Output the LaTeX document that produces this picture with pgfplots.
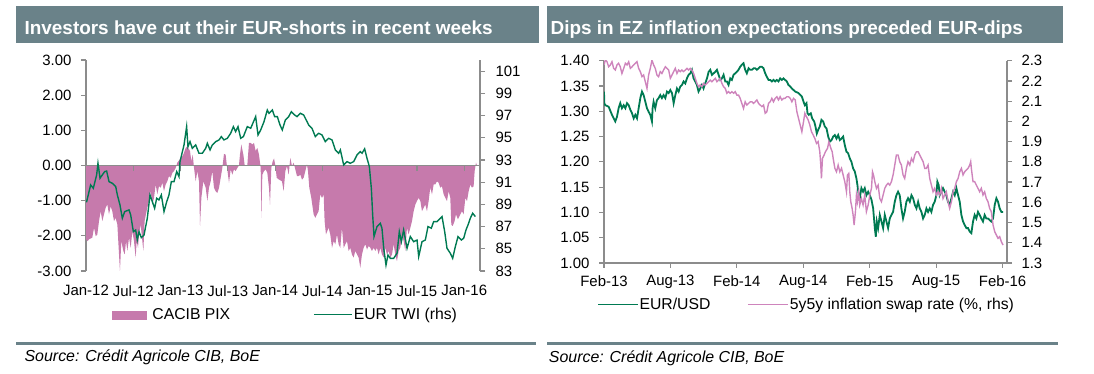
\documentclass[border=0pt]{standalone}
\usepackage{pgfplots}
\pgfplotsset{compat=1.18}
\usepackage{fontspec}
\setmainfont{Liberation Sans}
\definecolor{titlebg}{RGB}{106,130,137}
\definecolor{eurgreen}{RGB}{0,122,82}
\definecolor{pixpink}{RGB}{198,122,172}
\definecolor{swappink}{RGB}{206,132,188}
\definecolor{axgray}{RGB}{140,140,140}
\newcommand{\tickfont}{\fontsize{15}{15}\selectfont}
\newcommand{\legfont}{\fontsize{15.8}{15.8}\selectfont}
\pgfplotsset{
  common/.style={scale only axis, anchor=south west, tick align=outside, major tick length=5bp,
    axis line style={axgray, line width=1.2bp}, tick style={axgray, line width=1.2bp},
    tick label style={font=\tickfont, text=black}},
}
\begin{document}
\begin{tikzpicture}
\useasboundingbox (0,0) rectangle (1094bp,374bp);
% title bars
\fill[titlebg] (15.7bp,331.4bp) rectangle (538.5bp,367.7bp);
\fill[titlebg] (547bp,331.4bp) rectangle (1062.7bp,367.7bp);
\node[anchor=base west, inner sep=0pt, text=white, font=\fontsize{19}{19}\selectfont\bfseries] at (24.4bp,339bp) {Investors have cut their EUR-shorts in recent weeks};
\node[anchor=base west, inner sep=0pt, text=white, font=\fontsize{19}{19}\selectfont\bfseries] at (550.5bp,339bp) {Dips in EZ inflation expectations preceded EUR-dips};
% separators and sources
\fill[titlebg] (15.7bp,28.6bp) rectangle (535.6bp,32.1bp);
\fill[titlebg] (547bp,28.6bp) rectangle (1058bp,32.1bp);
\node[anchor=base west, inner sep=0pt, font=\fontsize{16}{16}\selectfont\itshape] at (24.4bp,13bp) {Source: Crédit Agricole CIB, BoE};
\node[anchor=base west, inner sep=0pt, font=\fontsize{16}{16}\selectfont\itshape] at (548.7bp,12bp) {Source: Crédit Agricole CIB, BoE};

% ---------------- Left panel: CACIB PIX ----------------
\begin{axis}[common, at={(86bp,103bp)}, width=394bp, height=211bp,
  xmin=0, xmax=50, ymin=-3, ymax=3,
  axis y line*=left, axis x line*=bottom, x axis line style={draw=none},
  major x tick style={draw=none},
  xtick={0,6,12,18,24,30,36,42,48},
  xticklabels={Jan-12,Jul-12,Jan-13,Jul-13,Jan-14,Jul-14,Jan-15,Jul-15,Jan-16},
  xticklabel style={yshift=-6bp},
  ytick={-3,-2,-1,0,1,2,3},
  yticklabels={-3.00,-2.00,-1.00,0.00,1.00,2.00,3.00},
  yticklabel style={xshift=-6bp},
  clip=false]
\addplot[fill=pixpink, draw=none, forget plot] coordinates {
(0,0) (0,-2.10) (0.2,-2.15) (0.38,-2.10) (0.80,-2.05) (1.02,-1.77) (1.23,-2.01) (1.44,-1.96) (1.65,-1.58) (1.86,-1.30) (2.07,-1.58) (2.28,-1.39) (2.50,-1.20) (2.71,-1.11) (2.92,-1.39) (3.13,-1.16) (3.34,-1.30) (3.55,-1.58) (3.76,-1.49) (3.98,-1.68) (4.19,-2.53) (4.31,-3.00) (4.48,-2.15) (4.74,-2.43) (4.91,-2.53) (5.08,-2.15) (5.25,-2.43) (5.46,-2.05) (5.67,-2.34) (5.88,-1.87) (6.09,-2.15) (6.30,-2.62) (6.43,-2.15) (6.60,-2.34) (6.73,-1.96) (6.94,-1.68) (7.15,-2.15) (7.28,-2.43) (7.44,-1.58) (7.61,-1.39) (7.78,-1.20) (7.99,-1.01) (8.20,-0.73) (8.42,-1.11) (8.63,-0.92) (8.84,-0.54) (9.05,-0.82) (9.26,-0.59) (9.48,-0.63) (9.69,-0.49) (9.90,-0.73) (10.11,-0.54) (10.32,-0.45) (10.53,-0.30) (10.74,-0.35) (10.96,-0.21) (11.17,-0.16) (11.38,-0.07) (11.59,0.08) (11.89,0.17) (12.10,0.22) (12.35,0.31) (12.65,0.50) (12.86,0.55) (13.20,0.41) (13.37,0.12) (13.54,0.31) (13.71,-0.07) (13.92,-0.45) (14.13,-0.16) (14.34,-0.45) (14.47,-1.72) (14.64,-0.92) (14.89,-0.45) (15.19,-0.63) (15.40,-1.01) (15.61,-0.63) (15.82,-0.45) (16.03,-0.16) (16.24,-0.63) (16.45,-0.73) (16.67,-0.78) (16.88,-0.63) (17.09,-0.35) (17.30,-0.07) (17.51,0.33) (17.72,0.31) (17.93,-0.11) (18.15,-0.49) (18.36,-0.11) (18.57,-0.26) (18.78,-0.11) (18.99,-0.16) (19.20,-0.07) (19.41,0) (19.54,0.31) (19.71,0.60) (19.97,0.31) (20.14,0) (20.47,0) (20.68,0.64) (20.90,0.64) (21.11,0.60) (21.32,0.64) (21.53,0.41) (21.74,0.50) (21.95,0.31) (22.17,-0.07) (22.25,-1.49) (22.38,-0.26) (22.59,-0.16) (22.80,-0.11) (23.01,-0.21) (23.22,-0.63) (23.35,-1.11) (23.52,-0.07) (23.69,0.12) (23.86,0.20) (24.03,0) (24.20,-0.35) (24.49,-0.40) (24.87,-0.45) (25.08,-0.73) (25.30,-0.16) (25.50,-0.02) (25.72,-0.26) (25.93,0.22) (26.14,-0.02) (26.35,0.08) (26.56,-0.11) (26.77,-0.30) (26.99,-0.30) (27.20,-0.26) (27.41,-0.40) (27.62,-0.35) (27.83,-0.16) (28.04,0.03) (28.17,-0.16) (28.34,-0.63) (28.59,-0.92) (28.89,-1.39) (29.10,-1.49) (29.31,-1.39) (29.52,-1.30) (29.73,-0.82) (29.95,-0.92) (30.16,-0.82) (30.28,-1.58) (30.45,-1.96) (30.79,-1.77) (31.00,-1.96) (31.22,-2.34) (31.43,-2.15) (31.64,-2.24) (31.85,-1.96) (32.06,-2.24) (32.27,-2.34) (32.48,-1.77) (32.70,-2.34) (32.91,-2.24) (33.12,-2.15) (33.33,-2.43) (33.54,-2.34) (33.75,-2.53) (33.96,-2.62) (34.18,-2.43) (34.39,-2.53) (34.60,-2.62) (34.81,-2.91) (35.02,-2.53) (35.23,-2.34) (35.45,-2.24) (35.66,-2.39) (35.87,-2.29) (36.08,-2.34) (36.29,-2.43) (36.50,-2.34) (36.71,-2.43) (36.93,-2.34) (37.14,-2.53) (37.35,-2.34) (37.56,-2.53) (37.77,-2.62) (37.98,-2.34) (38.19,-2.53) (38.41,-2.43) (38.62,-2.62) (38.83,-2.53) (39.04,-2.24) (39.25,-2.53) (39.46,-2.72) (39.68,-2.43) (39.89,-2.34) (40.10,-1.96) (40.31,-2.15) (40.52,-2.43) (40.73,-1.77) (40.94,-1.96) (41.16,-1.77) (41.37,-1.58) (41.58,-1.30) (41.79,-1.11) (42.00,-1.01) (42.21,-0.92) (42.43,-1.01) (42.64,-1.30) (42.85,-1.20) (43.06,-1.11) (43.27,-1.30) (43.48,-1.01) (43.69,-0.63) (43.91,-0.82) (44.12,-0.54) (44.33,-0.54) (44.54,-0.45) (44.75,-0.49) (44.96,-0.63) (45.17,-0.59) (45.39,-0.82) (45.60,-0.92) (45.81,-1.01) (46.02,-0.73) (46.23,-0.92) (46.36,-1.68) (46.53,-1.72) (46.78,-1.58) (46.95,-1.39) (47.20,-1.53) (47.50,-1.39) (47.71,-1.30) (47.92,-1.39) (48.14,-0.92) (48.35,-1.01) (48.56,-0.73) (48.77,-0.54) (48.98,-0.63) (49.19,-0.59) (49.32,-0.16) (49.49,0.08) (49.62,0)
} -- cycle;
\addplot[axgray, line width=1.2bp, forget plot] coordinates {(0,0) (50,0)};
\addplot[axgray, line width=1.2bp, ycomb, forget plot] coordinates {(6,-0.16) (12,-0.16) (18,-0.16) (24,-0.16) (30,-0.16) (36,-0.16) (42,-0.16) (48,-0.16)};
\end{axis}

\begin{axis}[common, at={(86bp,103bp)}, width=394bp, height=211bp,
  xmin=0, xmax=50, ymin=83, ymax=102,
  hide x axis, axis y line*=right,
  ytick={83,85,87,89,91,93,95,97,99,101},
  yticklabels={83,85,87,89,91,93,95,97,99,101},
  yticklabel style={xshift=7bp},
  legend columns=2, legend cell align=left,
  legend style={at={(0.066,-0.2085)}, anchor=west, draw=none, fill=none, inner sep=0pt, outer sep=0pt,
    font=\legfont, nodes={inner sep=1bp},
    /tikz/every even column/.append style={column sep=82bp}}]
\addlegendimage{legend image code/.code={\fill[pixpink] (0bp,-4bp) rectangle (34bp,4bp); \path (39bp,0bp);}}
\addlegendentry{CACIB PIX}
\addplot[eurgreen, line width=1.4bp, legend image code/.code={\draw[eurgreen, line width=1bp] (0bp,0bp) -- (38.5bp,0bp);}] coordinates {
(0,89.24) (0.08,89.24) (0.59,90.75) (0.93,90.45) (1.35,91.65) (1.52,92.70) (1.78,91.35) (2.07,91.65) (2.37,91.95) (2.62,92.00) (2.92,91.05) (3.34,90.90) (3.77,90.60) (3.98,89.85) (4.31,88.95) (4.61,87.75) (4.91,88.35) (5.46,88.50) (5.67,88.05) (6.01,86.54) (6.30,86.69) (6.51,85.79) (6.73,86.54) (7.02,86.00) (7.36,86.24) (7.78,87.75) (8.12,89.85) (8.42,89.24) (8.71,88.65) (8.97,89.55) (9.26,89.40) (9.56,89.85) (9.90,88.35) (10.24,89.24) (10.53,89.85) (10.83,91.05) (11.17,91.05) (11.51,91.95) (11.80,91.50) (11.93,92.85) (12.44,94.35) (12.77,96.00) (12.94,94.20) (13.20,94.65) (13.49,94.05) (13.92,94.35) (14.34,93.60) (14.76,93.60) (15.19,94.05) (15.40,94.50) (15.74,93.90) (16.03,94.35) (16.46,94.65) (16.88,94.80) (17.17,95.10) (17.51,94.80) (17.94,94.95) (18.36,95.40) (18.70,96.00) (18.99,95.55) (19.29,96.00) (19.63,94.95) (19.97,95.10) (20.47,96.00) (20.90,95.85) (21.53,96.90) (21.83,95.25) (22.17,95.70) (22.59,96.45) (23.01,97.50) (23.22,97.20) (23.65,97.50) (23.94,96.90) (24.28,96.90) (24.62,96.15) (24.91,95.70) (25.30,96.60) (25.72,96.90) (26.06,97.35) (26.48,97.05) (26.78,96.90) (27.20,97.20) (27.62,97.05) (28.05,96.45) (28.26,96.15) (28.68,95.85) (29.10,95.10) (29.53,95.40) (29.95,95.25) (30.37,94.65) (30.80,94.95) (31.22,94.80) (31.64,93.90) (32.06,93.60) (32.28,93.90) (32.70,92.55) (33.12,92.85) (33.54,92.70) (33.97,92.85) (34.39,93.45) (34.81,93.75) (35.03,93.60) (35.36,94.00) (35.66,93.15) (35.96,92.40) (36.21,90.45) (36.38,88.05) (36.55,86.10) (36.93,87.00) (37.35,87.30) (37.56,86.85) (37.78,85.05) (38.07,83.54) (38.32,84.44) (38.62,84.14) (39.04,84.14) (39.47,84.60) (39.76,86.54) (40.02,85.64) (40.31,86.69) (40.74,85.05) (41.16,86.10) (41.58,85.64) (42.01,85.79) (42.22,84.30) (42.64,85.64) (43.06,85.79) (43.40,87.00) (43.82,86.85) (44.12,87.45) (44.54,87.45) (44.97,87.75) (45.18,87.90) (45.52,86.54) (45.81,85.05) (46.23,84.60) (46.53,84.14) (46.87,85.20) (47.21,86.10) (47.63,85.79) (47.93,85.95) (48.22,86.69) (48.48,87.15) (48.77,87.75) (49.07,88.20) (49.41,87.90)
};
\addlegendentry{EUR TWI (rhs)}
\end{axis}

% ---------------- Right panel ----------------
\begin{axis}[common, at={(604bp,111bp)}, width=403bp, height=202.3bp,
  xmin=0, xmax=36.4, ymin=1, ymax=1.4,
  axis x line*=bottom, axis y line*=left,
  xtick={0,6,12,18,24,30,36},
  xticklabels={Feb-13,Aug-13,Feb-14,Aug-14,Feb-15,Aug-15,Feb-16},
  xticklabel style={yshift=-4bp},
  ytick={1.00,1.05,1.10,1.15,1.20,1.25,1.30,1.35,1.40},
  yticklabels={1.00,1.05,1.10,1.15,1.20,1.25,1.30,1.35,1.40},
  yticklabel style={xshift=-6bp}]
\addplot[eurgreen, line width=1.8bp] coordinates {
(0,1.339) (0.03,1.316) (0.12,1.312) (0.42,1.309) (0.72,1.293) (1.02,1.280) (1.17,1.289) (1.32,1.306) (1.47,1.316) (1.62,1.306) (1.78,1.312) (1.93,1.306) (2.08,1.316) (2.23,1.312) (2.38,1.303) (2.53,1.296) (2.68,1.286) (2.83,1.293) (2.98,1.286) (3.13,1.306) (3.28,1.326) (3.43,1.339) (3.58,1.332) (3.73,1.319) (3.88,1.306) (4.03,1.299) (4.18,1.293) (4.33,1.280) (4.39,1.306) (4.48,1.319) (4.63,1.306) (4.78,1.322) (4.93,1.326) (5.08,1.332) (5.23,1.326) (5.38,1.332) (5.54,1.326) (5.69,1.339) (5.84,1.336) (5.99,1.342) (6.14,1.336) (6.29,1.316) (6.44,1.332) (6.59,1.345) (6.74,1.339) (6.89,1.349) (7.04,1.352) (7.19,1.359) (7.34,1.355) (7.49,1.365) (7.64,1.372) (7.79,1.375) (7.94,1.382) (8.09,1.365) (8.24,1.359) (8.39,1.352) (8.54,1.339) (8.69,1.345) (8.84,1.352) (8.99,1.345) (9.14,1.355) (9.30,1.365) (9.45,1.378) (9.60,1.382) (9.75,1.372) (9.90,1.375) (10.05,1.378) (10.20,1.382) (10.35,1.372) (10.50,1.362) (10.65,1.365) (10.80,1.372) (10.95,1.359) (11.10,1.359) (11.25,1.352) (11.40,1.365) (11.55,1.362) (11.70,1.372) (11.85,1.375) (12.00,1.378) (12.15,1.382) (12.30,1.388) (12.45,1.392) (12.60,1.395) (12.75,1.382) (12.90,1.375) (13.06,1.385) (13.21,1.382) (13.36,1.382) (13.51,1.385) (13.66,1.385) (13.81,1.382) (13.96,1.385) (14.11,1.388) (14.26,1.388) (14.41,1.385) (14.56,1.375) (14.71,1.368) (14.86,1.362) (15.01,1.362) (15.16,1.359) (15.31,1.362) (15.46,1.359) (15.61,1.362) (15.76,1.359) (15.91,1.365) (16.06,1.362) (16.21,1.365) (16.36,1.362) (16.51,1.359) (16.66,1.352) (16.82,1.349) (16.97,1.345) (17.12,1.342) (17.27,1.339) (17.57,1.336) (17.87,1.329) (18.02,1.319) (18.14,1.312) (18.29,1.316) (18.38,1.296) (18.50,1.293) (18.68,1.296) (18.80,1.286) (18.98,1.280) (19.10,1.270) (19.22,1.256) (19.34,1.263) (19.49,1.270) (19.64,1.283) (19.79,1.280) (19.94,1.270) (20.10,1.266) (20.25,1.250) (20.40,1.240) (20.55,1.243) (20.70,1.250) (20.85,1.253) (21.00,1.246) (21.15,1.253) (21.30,1.243) (21.45,1.246) (21.60,1.250) (21.75,1.233) (21.90,1.220) (22.05,1.217) (22.20,1.207) (22.35,1.200) (22.50,1.187) (22.65,1.181) (22.80,1.167) (22.89,1.154) (23.01,1.134) (23.10,1.128) (23.25,1.148) (23.40,1.141) (23.55,1.148) (23.70,1.134) (23.86,1.141) (24.01,1.134) (24.16,1.125) (24.31,1.108) (24.46,1.069) (24.55,1.052) (24.64,1.082) (24.76,1.069) (24.91,1.095) (25.06,1.082) (25.21,1.069) (25.36,1.095) (25.51,1.082) (25.66,1.069) (25.81,1.088) (25.96,1.095) (26.11,1.101) (26.26,1.121) (26.41,1.134) (26.56,1.141) (26.71,1.134) (26.86,1.108) (27.01,1.088) (27.16,1.101) (27.31,1.121) (27.46,1.128) (27.62,1.121) (27.77,1.134) (27.92,1.128) (28.07,1.115) (28.22,1.108) (28.37,1.121) (28.52,1.108) (28.67,1.101) (28.82,1.088) (28.97,1.095) (29.12,1.108) (29.27,1.101) (29.42,1.108) (29.57,1.101) (29.72,1.115) (29.87,1.121) (30.02,1.134) (30.11,1.161) (30.23,1.154) (30.32,1.134) (30.47,1.141) (30.62,1.148) (30.77,1.141) (30.92,1.134) (31.07,1.121) (31.22,1.115) (31.38,1.128) (31.53,1.141) (31.68,1.134) (31.83,1.148) (31.98,1.134) (32.13,1.121) (32.28,1.095) (32.43,1.082) (32.58,1.075) (32.73,1.069) (32.88,1.069) (33.03,1.062) (33.18,1.059) (33.33,1.082) (33.48,1.095) (33.63,1.088) (33.78,1.101) (33.93,1.095) (34.08,1.088) (34.23,1.082) (34.38,1.095) (34.53,1.088) (34.68,1.088) (34.83,1.085) (34.98,1.082) (35.14,1.088) (35.29,1.115) (35.44,1.128) (35.59,1.121) (35.74,1.108) (35.89,1.101) (36.04,1.101)
};
\end{axis}

\begin{axis}[common, at={(604bp,111bp)}, width=403bp, height=202.3bp,
  xmin=0, xmax=36.4, ymin=1.3, ymax=2.3,
  hide x axis, axis y line*=right,
  ytick={1.3,1.4,1.5,1.6,1.7,1.8,1.9,2.0,2.1,2.2,2.3},
  yticklabels={1.3,1.4,1.5,1.6,1.7,1.8,1.9,2,2.1,2.2,2.3},
  yticklabel style={xshift=6bp},
  legend columns=2, legend cell align=left,
  legend style={at={(-0.0159,-0.2047)}, anchor=west, draw=none, fill=none, inner sep=0pt, outer sep=0pt,
    font=\legfont, nodes={inner sep=1bp},
    /tikz/every even column/.append style={column sep=36bp}}]
\addlegendimage{legend image code/.code={\draw[eurgreen, line width=1bp] (0bp,0bp) -- (40bp,0bp);}}
\addlegendentry{EUR/USD}
\addplot[swappink, line width=1.4bp, legend image code/.code={\draw[swappink, line width=1bp] (0bp,0bp) -- (40.5bp,0bp);}] coordinates {
(0.00,2.279) (0.12,2.303) (0.27,2.295) (0.42,2.270) (0.57,2.279) (0.72,2.295) (0.87,2.262) (1.02,2.254) (1.17,2.279) (1.32,2.287) (1.47,2.270) (1.62,2.237) (1.78,2.262) (1.93,2.287) (2.08,2.279) (2.23,2.295) (2.38,2.262) (2.53,2.270) (2.68,2.279) (2.83,2.287) (2.98,2.295) (3.13,2.262) (3.28,2.246) (3.43,2.221) (3.58,2.229) (3.73,2.196) (3.88,2.163) (4.03,2.229) (4.18,2.262) (4.33,2.303) (4.48,2.279) (4.63,2.262) (4.78,2.229) (4.93,2.221) (5.08,2.246) (5.23,2.237) (5.38,2.254) (5.54,2.270) (5.69,2.262) (5.84,2.254) (5.99,2.213) (6.14,2.229) (6.29,2.246) (6.44,2.262) (6.59,2.237) (6.74,2.254) (6.89,2.246) (7.04,2.254) (7.19,2.246) (7.34,2.254) (7.49,2.262) (7.64,2.254) (7.79,2.262) (7.94,2.254) (8.09,2.237) (8.24,2.213) (8.39,2.188) (8.54,2.171) (8.69,2.180) (8.84,2.171) (8.99,2.188) (9.14,2.180) (9.30,2.188) (9.45,2.196) (9.60,2.204) (9.75,2.196) (9.90,2.204) (10.05,2.213) (10.20,2.196) (10.35,2.204) (10.50,2.213) (10.65,2.188) (10.80,2.171) (10.95,2.163) (11.10,2.139) (11.25,2.147) (11.40,2.139) (11.55,2.147) (11.70,2.139) (11.85,2.147) (12.00,2.130) (12.15,2.130) (12.30,2.114) (12.45,2.089) (12.60,2.064) (12.75,2.097) (12.90,2.081) (13.06,2.089) (13.21,2.097) (13.36,2.097) (13.51,2.089) (13.66,2.097) (13.81,2.106) (13.96,2.089) (14.11,2.081) (14.26,2.073) (14.41,2.081) (14.56,2.040) (14.71,2.048) (14.86,2.089) (15.01,2.097) (15.16,2.114) (15.31,2.097) (15.46,2.114) (15.61,2.122) (15.76,2.106) (15.91,2.122) (16.06,2.106) (16.21,2.114) (16.36,2.114) (16.51,2.122) (16.66,2.122) (16.82,2.114) (16.97,2.097) (17.12,2.114) (17.27,2.106) (17.42,2.048) (17.57,2.015) (17.72,1.982) (17.87,1.949) (18.02,1.998) (18.14,2.040) (18.29,2.023) (18.44,2.007) (18.59,1.982) (18.74,1.949) (18.89,1.933) (19.04,1.916) (19.19,1.891) (19.34,1.900) (19.49,1.850) (19.58,1.784) (19.64,1.718) (19.73,1.817) (19.88,1.834) (20.00,1.850) (20.19,1.867) (20.31,1.900) (20.49,1.867) (20.61,1.850) (20.70,1.817) (20.85,1.768) (21.00,1.751) (21.15,1.784) (21.30,1.751) (21.45,1.768) (21.60,1.735) (21.75,1.702) (21.90,1.652) (21.99,1.735) (22.11,1.743) (22.20,1.652) (22.29,1.603) (22.41,1.570) (22.50,1.537) (22.59,1.488) (22.71,1.554) (22.80,1.636) (22.89,1.603) (23.01,1.652) (23.10,1.587) (23.25,1.619) (23.40,1.587) (23.55,1.636) (23.70,1.554) (23.86,1.587) (24.01,1.636) (24.16,1.669) (24.25,1.751) (24.34,1.735) (24.46,1.702) (24.61,1.669) (24.76,1.685) (24.91,1.619) (25.06,1.603) (25.21,1.636) (25.36,1.669) (25.51,1.685) (25.66,1.694) (25.81,1.685) (25.96,1.702) (26.11,1.735) (26.26,1.784) (26.41,1.834) (26.56,1.834) (26.71,1.801) (26.86,1.784) (27.01,1.735) (27.16,1.718) (27.31,1.768) (27.46,1.801) (27.62,1.784) (27.77,1.817) (27.92,1.801) (28.07,1.834) (28.22,1.850) (28.37,1.850) (28.52,1.834) (28.67,1.817) (28.82,1.801) (28.97,1.768) (29.12,1.768) (29.27,1.784) (29.42,1.718) (29.57,1.685) (29.72,1.652) (29.87,1.669) (30.02,1.636) (30.17,1.652) (30.32,1.636) (30.47,1.669) (30.62,1.619) (30.77,1.636) (30.92,1.652) (31.07,1.603) (31.22,1.570) (31.38,1.603) (31.53,1.652) (31.68,1.669) (31.83,1.702) (31.98,1.718) (32.13,1.751) (32.28,1.768) (32.43,1.735) (32.58,1.751) (32.73,1.760) (32.88,1.768) (33.03,1.784) (33.12,1.801) (33.18,1.768) (33.33,1.702) (33.48,1.702) (33.63,1.685) (33.78,1.669) (33.93,1.652) (34.08,1.669) (34.23,1.636) (34.38,1.652) (34.53,1.619) (34.68,1.603) (34.83,1.570) (34.98,1.554) (35.14,1.488) (35.29,1.455) (35.44,1.438) (35.59,1.422) (35.74,1.430) (35.89,1.405) (36.04,1.389)
};
\addlegendentry{5y5y inflation swap rate (\%, rhs)}
\end{axis}
\end{tikzpicture}
\end{document}
